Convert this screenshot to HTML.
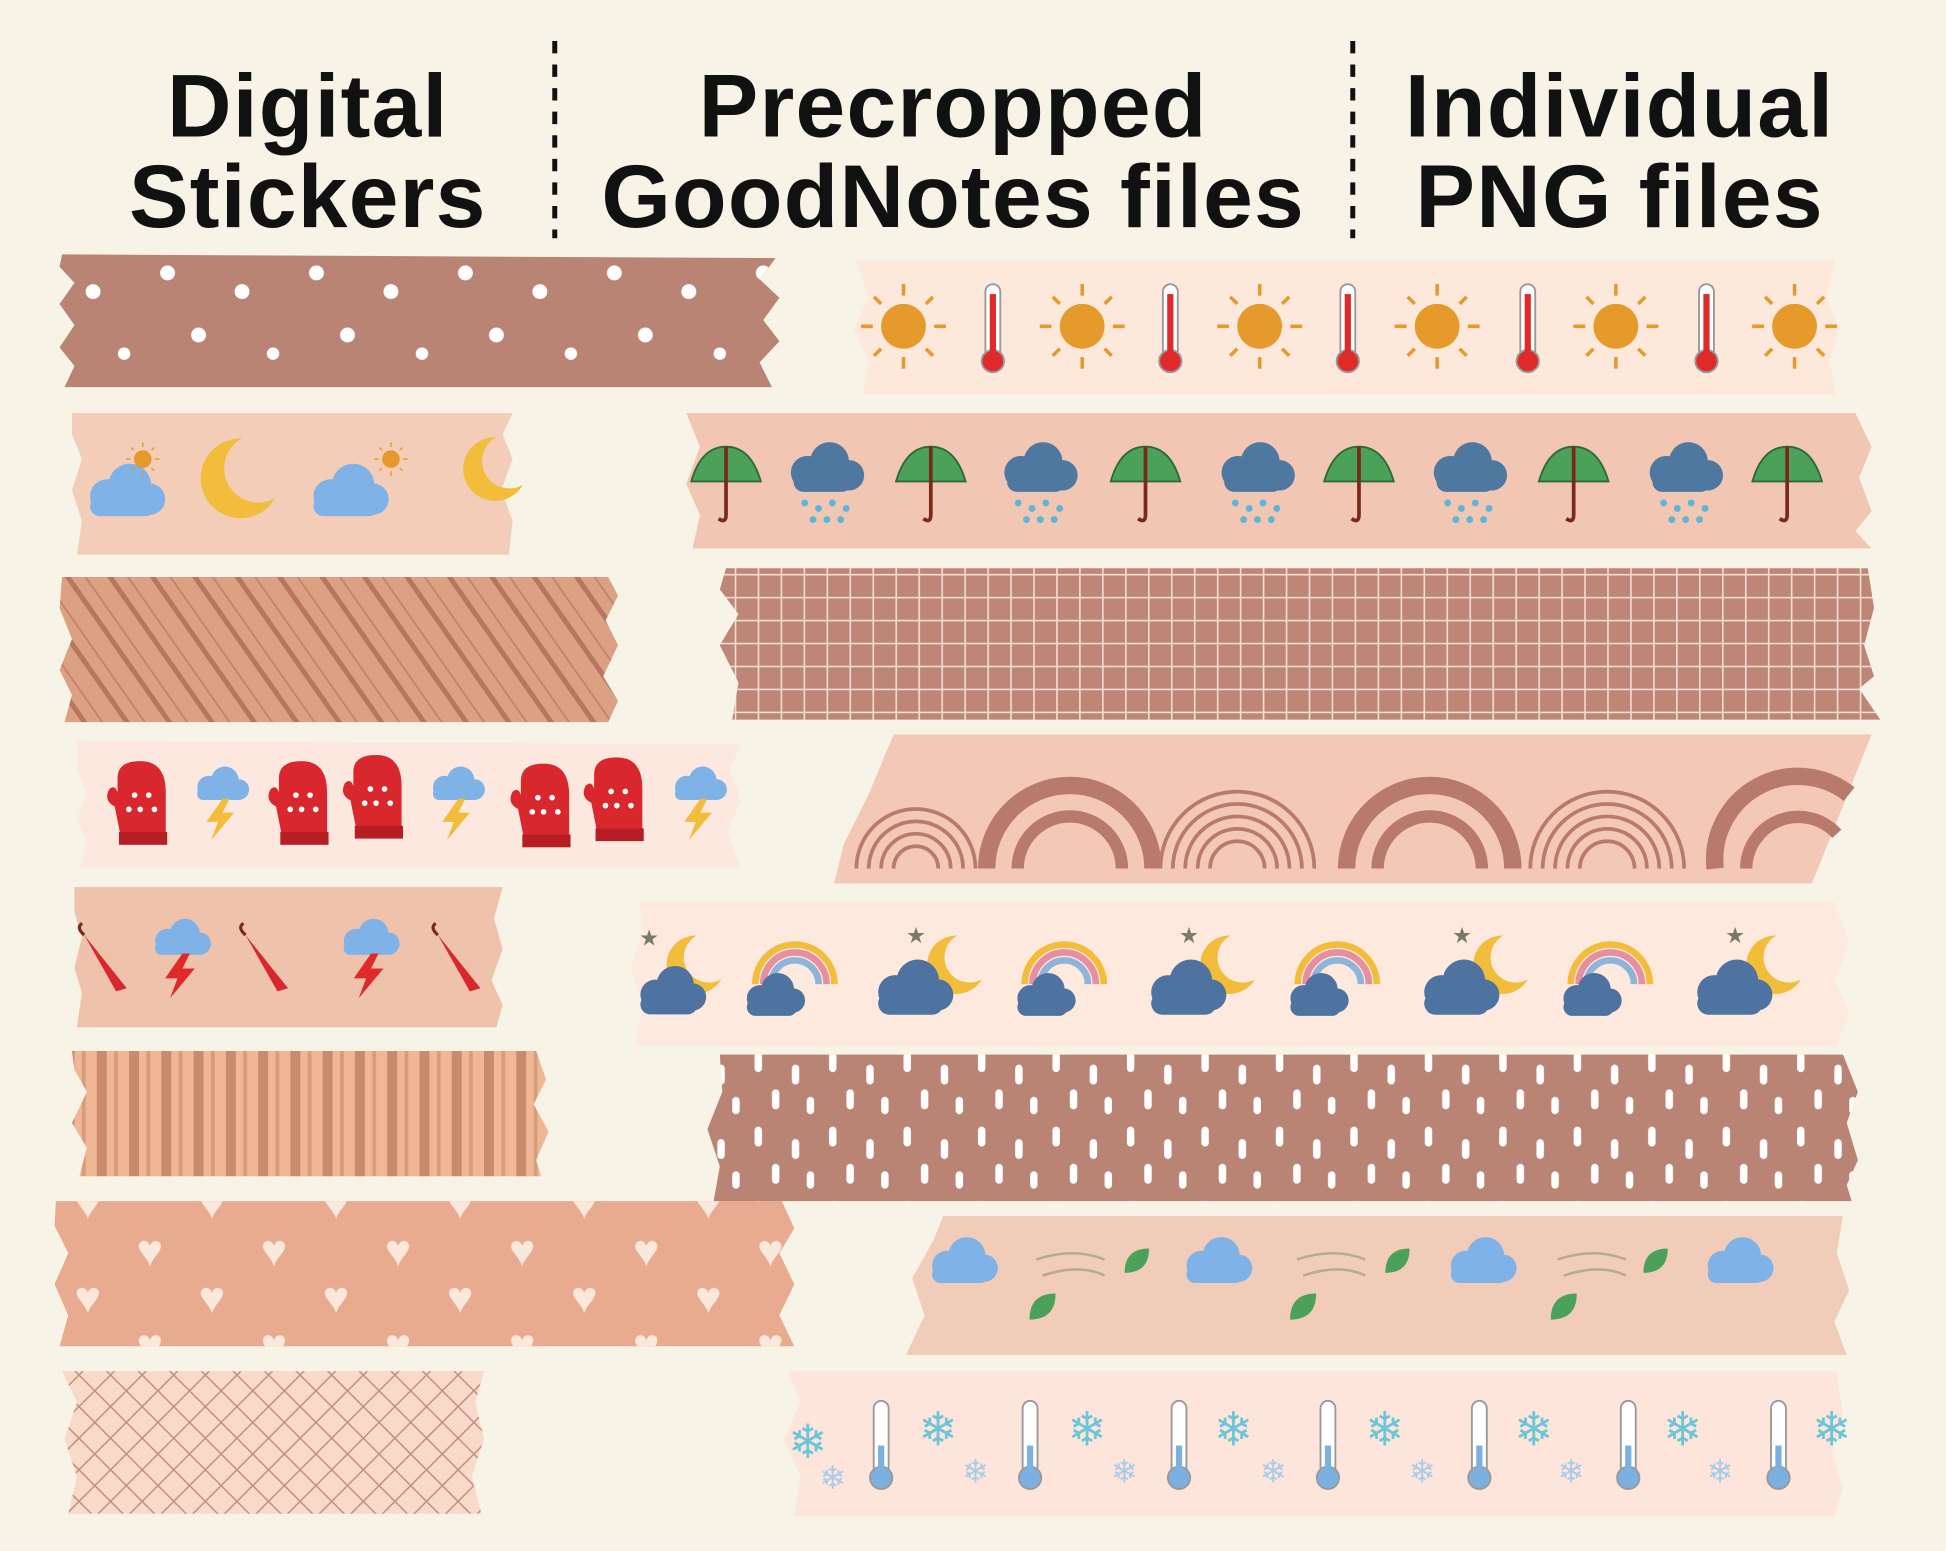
<!DOCTYPE html>
<html><head><meta charset="utf-8"><style>
html,body{margin:0;padding:0;background:#f7f3e7;}
svg{display:block}
text{font-family:"Liberation Sans","DejaVu Sans",sans-serif;}
</style></head><body>
<svg width="1946" height="1551" viewBox="0 0 1568 1250" preserveAspectRatio="none" xmlns="http://www.w3.org/2000/svg">
<defs>
<pattern id="dots" width="120" height="100" patternUnits="userSpaceOnUse">
<circle cx="15" cy="20" r="6" fill="#fff"/><circle cx="75" cy="35" r="6" fill="#fff"/><circle cx="40" cy="70" r="6" fill="#fff"/><circle cx="100" cy="85" r="5" fill="#fff"/>
</pattern>
<pattern id="diag" width="28" height="28" patternUnits="userSpaceOnUse" patternTransform="rotate(-35)">
<rect width="28" height="28" fill="#dca183"/><rect width="4" height="28" fill="#b9755f"/><rect x="13" width="1.5" height="28" fill="#c2836d"/>
</pattern>
<pattern id="vstr" width="26" height="10" patternUnits="userSpaceOnUse">
<rect width="26" height="10" fill="#efb793"/><rect width="8" height="10" fill="#c98a6d"/><rect x="14" width="3" height="10" fill="#d59c7d"/>
</pattern>
<pattern id="hatch" width="18" height="18" patternUnits="userSpaceOnUse" patternTransform="rotate(45)">
<rect width="18" height="18" fill="#f8d9ca"/><rect width="1.2" height="18" fill="#c48f80"/><rect width="18" height="1.2" fill="#c48f80"/>
</pattern>
<pattern id="grid" width="18.5" height="18.5" patternUnits="userSpaceOnUse">
<rect width="18.5" height="18.5" fill="#bd8676"/><rect width="1.3" height="18.5" fill="#f3ddd3"/><rect width="18.5" height="1.3" fill="#f3ddd3"/>
</pattern>
<pattern id="dash" width="60" height="60" patternUnits="userSpaceOnUse">
<rect width="60" height="60" fill="#b98474"/>
<rect x="8" y="8" width="6" height="16" rx="3" fill="#fff"/><rect x="38" y="18" width="6" height="16" rx="3" fill="#fff"/><rect x="22" y="38" width="6" height="16" rx="3" fill="#fff"/><rect x="50" y="44" width="6" height="14" rx="3" fill="#fff"/>
</pattern>
<pattern id="hearts" width="100" height="76" patternUnits="userSpaceOnUse">
<text x="10" y="32" font-size="36" fill="#fbe8dc">♥</text><text x="60" y="70" font-size="36" fill="#fbe8dc">♥</text>
</pattern>
<symbol id="sun" viewBox="-40 -40 80 80"><g stroke="#e59a2b" stroke-width="3"><line x1="0" y1="-36" x2="0" y2="-26"/><line x1="0" y1="36" x2="0" y2="26"/><line x1="-36" y1="0" x2="-26" y2="0"/><line x1="36" y1="0" x2="26" y2="0"/><line x1="-25" y1="-25" x2="-19" y2="-19"/><line x1="25" y1="25" x2="19" y2="19"/><line x1="-25" y1="25" x2="-19" y2="19"/><line x1="25" y1="-25" x2="19" y2="-19"/></g><circle r="19" fill="#e59a2b"/></symbol>
<symbol id="thermR" viewBox="-15 -40 30 80"><rect x="-6" y="-36" width="12" height="60" rx="6" fill="#fff" stroke="#999" stroke-width="1.5"/><circle cy="26" r="9" fill="#e02a2a" stroke="#999" stroke-width="1.5"/><rect x="-2.5" y="-28" width="5" height="52" fill="#e02a2a"/></symbol>
<symbol id="thermB" viewBox="-15 -40 30 80"><rect x="-6" y="-36" width="12" height="60" rx="6" fill="#fff" stroke="#999" stroke-width="1.5"/><circle cy="26" r="9" fill="#7bb0e0" stroke="#999" stroke-width="1.5"/><rect x="-2.5" y="0" width="5" height="24" fill="#7bb0e0"/></symbol>
<symbol id="umb" viewBox="-35 -35 70 70"><path d="M-28,-2 Q-20,-30 0,-30 Q20,-30 28,-2 Z" fill="#4ba15a" stroke="#2d6a38" stroke-width="1.5"/><path d="M0,-30 L0,25 Q0,32 -6,28" fill="none" stroke="#7a2a1a" stroke-width="3"/></symbol>
<symbol id="rcloud" viewBox="-35 -35 70 70"><g fill="#4f78a0"><circle cx="-12" cy="-6" r="12"/><circle cx="4" cy="-14" r="14"/><circle cx="18" cy="-4" r="11"/><rect x="-22" y="-6" width="42" height="14" rx="7"/></g><g fill="#5fb5d9"><circle cx="-14" cy="16" r="2.5"/><circle cx="-4" cy="20" r="2.5"/><circle cx="6" cy="16" r="2.5"/><circle cx="16" cy="20" r="2.5"/><circle cx="-8" cy="28" r="2.5"/><circle cx="2" cy="28" r="2.5"/><circle cx="12" cy="28" r="2.5"/></g></symbol>
<symbol id="bcloud" viewBox="-35 -35 70 70"><g fill="#7fb2e6"><circle cx="-12" cy="0" r="12"/><circle cx="4" cy="-8" r="15"/><circle cx="18" cy="2" r="11"/><rect x="-24" y="0" width="46" height="14" rx="7"/></g></symbol>
<symbol id="dcloud" viewBox="-35 -35 70 70"><g fill="#4e73a0"><circle cx="-12" cy="4" r="12"/><circle cx="4" cy="-4" r="15"/><circle cx="18" cy="6" r="11"/><rect x="-24" y="4" width="46" height="16" rx="8"/></g></symbol>
<symbol id="moon" viewBox="-35 -35 70 70"><path d="M5,-30 A30,30 0 1 0 30,15 A24,24 0 1 1 5,-30 Z" fill="#f1bd3a"/></symbol>
<symbol id="rainbow" viewBox="-40 -40 80 80"><path d="M-30,10 A30,30 0 0 1 30,10" fill="none" stroke="#f1bd3a" stroke-width="5"/><path d="M-24,10 A24,24 0 0 1 24,10" fill="none" stroke="#e68fa0" stroke-width="5"/><path d="M-18,10 A18,18 0 0 1 18,10" fill="none" stroke="#8fb4d9" stroke-width="5"/></symbol>
<symbol id="mitt" viewBox="-30 -35 60 70"><path d="M-16,-20 Q-16,-32 0,-32 Q18,-32 18,-10 L18,20 L-14,20 L-18,0 Q-26,-4 -22,-12 Q-18,-16 -16,-10 Z" fill="#d8282e"/><rect x="-15" y="18" width="34" height="9" fill="#b71e24"/><g fill="#fff"><circle cx="-4" cy="-8" r="2"/><circle cx="6" cy="-8" r="2"/><circle cx="0" cy="2" r="2"/><circle cx="10" cy="2" r="2"/><circle cx="-8" cy="2" r="2"/></g></symbol>
<symbol id="bolt" viewBox="-35 -35 70 70"><g fill="#7fb2e6"><circle cx="-10" cy="-14" r="10"/><circle cx="4" cy="-20" r="12"/><circle cx="16" cy="-12" r="9"/><rect x="-20" y="-14" width="40" height="11" rx="5"/></g><path d="M2,-4 L-12,16 L-2,16 L-8,32 L12,8 L2,8 L8,-4 Z" fill="#f1bd3a"/></symbol>
<symbol id="rbolt" viewBox="-35 -35 70 70"><g fill="#7fb2e6"><circle cx="-10" cy="-14" r="10"/><circle cx="4" cy="-20" r="12"/><circle cx="16" cy="-12" r="9"/><rect x="-20" y="-14" width="40" height="11" rx="5"/></g><path d="M2,-4 L-12,16 L-2,16 L-8,32 L12,8 L2,8 L8,-4 Z" fill="#e02a2a"/></symbol>
<symbol id="rumb" viewBox="-35 -35 70 70"><path d="M-20,-25 L20,25 L10,28 Z" fill="#d8282e"/><path d="M-20,-25 Q-28,-32 -22,-36" fill="none" stroke="#7a2a1a" stroke-width="3"/></symbol>
<symbol id="leaf" viewBox="-20 -20 40 40"><path d="M-14,14 Q-14,-14 14,-14 Q14,14 -14,14 Z" fill="#4ba15a"/></symbol>
</defs>

<rect width="1568" height="1250" fill="#f7f3e7"/>

<g font-weight="bold" font-size="72" fill="#111" text-anchor="middle" letter-spacing="1">
<text x="248" y="110">Digital</text><text x="248" y="183">Stickers</text>
<text x="768" y="110">Precropped</text><text x="768" y="183">GoodNotes files</text>
<text x="1305" y="110">Individual</text><text x="1305" y="183">PNG files</text>
</g>
<g stroke="#111" stroke-width="4" stroke-dasharray="10,9"><line x1="447" y1="33" x2="447" y2="192"/><line x1="1090" y1="33" x2="1090" y2="192"/></g>

<polygon points="50,205 625,208 612,225 628,240 615,258 628,275 612,292 622,312 52,312 60,295 48,280 60,262 48,245 60,228 48,215" fill="#b98474"/>
<polygon points="50,205 625,208 612,225 628,240 615,258 628,275 612,292 622,312 52,312 60,295 48,280 60,262 48,245 60,228 48,215" fill="url(#dots)"/>

<polygon points="58,333 413,333 405,350 413,370 404,395 413,420 410,447 62,447 66,420 58,395 66,370 58,350" fill="#f3cdb8"/>
<use href="#bcloud" x="60" y="360" width="80" height="80"/><use href="#sun" x="100" y="355" width="30" height="30"/>
<use href="#moon" x="152" y="348" width="75" height="75"/>
<use href="#bcloud" x="240" y="360" width="80" height="80"/><use href="#sun" x="300" y="355" width="30" height="30"/>
<use href="#moon" x="358" y="348" width="75" height="60"/>

<polygon points="50,465 490,465 498,480 488,500 498,520 486,545 498,565 490,582 52,582 58,560 48,540 58,515 48,490" fill="url(#diag)"/>

<polygon points="62,597 597,600 588,620 597,645 586,670 597,700 64,700 70,680 62,660 70,640 62,620" fill="#fce8de"/>
<use href="#mitt" x="78" y="610" width="70" height="80"/><use href="#bolt" x="145" y="610" width="65" height="75"/>
<use href="#mitt" x="208" y="610" width="70" height="80"/><use href="#mitt" x="268" y="605" width="70" height="80"/>
<use href="#bolt" x="335" y="610" width="65" height="75"/><use href="#mitt" x="403" y="612" width="70" height="80"/>
<use href="#mitt" x="462" y="607" width="70" height="80"/><use href="#bolt" x="530" y="610" width="65" height="75"/>

<polygon points="60,715 405,715 398,740 405,765 396,790 405,810 400,828 62,828 66,800 60,780 66,755 60,735" fill="#efc2ab"/>
<use href="#rumb" x="55" y="740" width="60" height="70"/><use href="#rbolt" x="110" y="735" width="70" height="75"/>
<use href="#rumb" x="185" y="735" width="60" height="80"/><use href="#rbolt" x="262" y="735" width="70" height="75"/>
<use href="#rumb" x="340" y="735" width="60" height="80"/>

<polygon points="58,847 432,847 440,870 430,890 442,912 432,935 436,948 64,948 70,925 58,905 70,880 60,862" fill="url(#vstr)"/>

<polygon points="45,968 630,968 640,990 628,1010 640,1035 628,1060 640,1085 48,1085 55,1060 44,1035 55,1010 44,988" fill="#e8ab8f"/>
<polygon points="45,968 630,968 640,990 628,1010 640,1035 628,1060 640,1085 48,1085 55,1060 44,1035 55,1010 44,988" fill="url(#hearts)"/>

<polygon points="50,1105 390,1105 383,1130 390,1160 380,1190 388,1220 55,1220 62,1190 52,1160 62,1130" fill="url(#hatch)"/>

<polygon points="690,210 1478,210 1472,240 1482,265 1474,290 1480,318 695,318 700,290 688,265 700,240" fill="#fde8dc"/>
<g>
<use href="#sun" x="690" y="225" width="76" height="76"/><use href="#thermR" x="785" y="225" width="30" height="80"/>
<use href="#sun" x="834" y="225" width="76" height="76"/><use href="#thermR" x="928" y="225" width="30" height="80"/>
<use href="#sun" x="977" y="225" width="76" height="76"/><use href="#thermR" x="1071" y="225" width="30" height="80"/>
<use href="#sun" x="1120" y="225" width="76" height="76"/><use href="#thermR" x="1216" y="225" width="30" height="80"/>
<use href="#sun" x="1264" y="225" width="76" height="76"/><use href="#thermR" x="1360" y="225" width="30" height="80"/>
<use href="#sun" x="1408" y="225" width="76" height="76"/>
</g>

<polygon points="553,333 1495,333 1508,360 1498,385 1508,412 1495,428 1508,442 558,442 564,415 553,390 564,360" fill="#f1c6b2"/>
<g>
<use href="#umb" x="550" y="350" width="70" height="80"/><use href="#rcloud" x="625" y="345" width="78" height="85"/>
<use href="#umb" x="715" y="350" width="70" height="80"/><use href="#rcloud" x="797" y="345" width="78" height="85"/>
<use href="#umb" x="888" y="350" width="70" height="80"/><use href="#rcloud" x="972" y="345" width="78" height="85"/>
<use href="#umb" x="1060" y="350" width="70" height="80"/><use href="#rcloud" x="1143" y="345" width="78" height="85"/>
<use href="#umb" x="1233" y="350" width="70" height="80"/><use href="#rcloud" x="1317" y="345" width="78" height="85"/>
<use href="#umb" x="1405" y="350" width="70" height="80"/>
</g>

<polygon points="585,458 1505,458 1510,490 1502,520 1510,545 1498,555 1515,580 590,580 595,550 580,520 595,495 580,475" fill="url(#grid)"/>

<polygon points="720,592 1508,592 1460,712 672,712 680,680 700,640" fill="#f3c8b6"/>
<g fill="none" stroke="#b87a6a">
<path d="M690,700 A48,48 0 0 1 786,700" stroke-width="3"/><path d="M700,700 A38,38 0 0 1 776,700" stroke-width="3"/><path d="M710,700 A28,28 0 0 1 766,700" stroke-width="3"/><path d="M720,700 A18,18 0 0 1 756,700" stroke-width="3"/>
<path d="M795,700 A67,67 0 0 1 929,700" stroke-width="14"/><path d="M820,700 A42,42 0 0 1 904,700" stroke-width="10"/>
<path d="M935,700 A62,62 0 0 1 1059,700" stroke-width="3"/><path d="M945,700 A52,52 0 0 1 1049,700" stroke-width="3"/><path d="M955,700 A42,42 0 0 1 1039,700" stroke-width="3"/><path d="M965,700 A32,32 0 0 1 1029,700" stroke-width="3"/><path d="M975,700 A22,22 0 0 1 1019,700" stroke-width="3"/>
<path d="M1085,700 A67,67 0 0 1 1219,700" stroke-width="14"/><path d="M1110,700 A42,42 0 0 1 1194,700" stroke-width="10"/>
<path d="M1233,700 A62,62 0 0 1 1357,700" stroke-width="3"/><path d="M1243,700 A52,52 0 0 1 1347,700" stroke-width="3"/><path d="M1253,700 A42,42 0 0 1 1337,700" stroke-width="3"/><path d="M1263,700 A32,32 0 0 1 1327,700" stroke-width="3"/><path d="M1273,700 A22,22 0 0 1 1317,700" stroke-width="3"/>
<path d="M1382,700 A67,67 0 0 1 1490,640" stroke-width="14"/><path d="M1407,700 A42,42 0 0 1 1480,672" stroke-width="10"/>
</g>

<polygon points="515,727 1478,727 1490,760 1478,790 1490,815 1480,843 512,843 518,810 508,780 518,750" fill="#fde9de"/>
<g>
<use href="#moon" x="530" y="745" width="55" height="65"/><use href="#dcloud" x="505" y="760" width="70" height="75"/><text x="515" y="762" font-size="18" fill="#7a7a6a">★</text>
<use href="#rainbow" x="598" y="740" width="85" height="85"/><use href="#dcloud" x="592" y="770" width="62" height="62"/>
<use href="#moon" x="740" y="745" width="55" height="65"/><use href="#dcloud" x="695" y="755" width="80" height="80"/><text x="730" y="760" font-size="18" fill="#7a7a6a">★</text>
<use href="#rainbow" x="815" y="740" width="85" height="85"/><use href="#dcloud" x="810" y="770" width="62" height="62"/>
<use href="#moon" x="960" y="745" width="55" height="65"/><use href="#dcloud" x="915" y="755" width="80" height="80"/><text x="950" y="760" font-size="18" fill="#7a7a6a">★</text>
<use href="#rainbow" x="1035" y="740" width="85" height="85"/><use href="#dcloud" x="1030" y="770" width="62" height="62"/>
<use href="#moon" x="1180" y="745" width="55" height="65"/><use href="#dcloud" x="1135" y="755" width="80" height="80"/><text x="1170" y="760" font-size="18" fill="#7a7a6a">★</text>
<use href="#rainbow" x="1255" y="740" width="85" height="85"/><use href="#dcloud" x="1250" y="770" width="62" height="62"/>
<use href="#moon" x="1400" y="745" width="55" height="65"/><use href="#dcloud" x="1355" y="755" width="80" height="80"/><text x="1390" y="760" font-size="18" fill="#7a7a6a">★</text>
</g>

<polygon points="580,850 1485,850 1497,880 1488,905 1497,935 1488,955 1492,968 575,968 580,940 570,910 582,880" fill="url(#dash)"/>

<polygon points="760,980 1485,980 1480,1010 1490,1040 1478,1065 1488,1092 730,1092 745,1060 735,1030 752,1000" fill="#f1cdb9"/>
<g>
<use href="#bcloud" x="740" y="985" width="70" height="70"/><use href="#leaf" x="825" y="1038" width="30" height="30"/><use href="#leaf" x="902" y="1000" width="28" height="32"/>
<use href="#bcloud" x="945" y="985" width="70" height="70"/><use href="#leaf" x="1035" y="1038" width="30" height="30"/><use href="#leaf" x="1112" y="1000" width="28" height="32"/>
<use href="#bcloud" x="1158" y="985" width="70" height="70"/><use href="#leaf" x="1245" y="1038" width="30" height="30"/><use href="#leaf" x="1320" y="1000" width="28" height="32"/>
<use href="#bcloud" x="1365" y="985" width="70" height="70"/>
<g fill="none" stroke="#b8a89a" stroke-width="2"><path d="M835,1015 q30,-10 55,0 M840,1028 q30,-10 50,0"/><path d="M1045,1015 q30,-10 55,0 M1050,1028 q30,-10 50,0"/><path d="M1255,1015 q30,-10 55,0 M1260,1028 q30,-10 50,0"/></g>
</g>

<polygon points="635,1105 1480,1105 1485,1140 1476,1170 1485,1200 1478,1222 640,1222 645,1190 632,1160 645,1130" fill="#fde5dc"/>
<g font-size="38" fill="#6cc6d8">
<text x="635" y="1175">❄</text><text x="740" y="1165">❄</text><text x="860" y="1165">❄</text><text x="978" y="1165">❄</text><text x="1100" y="1165">❄</text><text x="1220" y="1165">❄</text><text x="1340" y="1165">❄</text><text x="1460" y="1165">❄</text>
</g>
<g font-size="26" fill="#a9cde8">
<text x="660" y="1200">❄</text><text x="775" y="1195">❄</text><text x="895" y="1195">❄</text><text x="1015" y="1195">❄</text><text x="1135" y="1195">❄</text><text x="1255" y="1195">❄</text><text x="1375" y="1195">❄</text>
</g>
<g>
<use href="#thermB" x="695" y="1125" width="30" height="80"/><use href="#thermB" x="815" y="1125" width="30" height="80"/><use href="#thermB" x="935" y="1125" width="30" height="80"/><use href="#thermB" x="1055" y="1125" width="30" height="80"/><use href="#thermB" x="1177" y="1125" width="30" height="80"/><use href="#thermB" x="1297" y="1125" width="30" height="80"/><use href="#thermB" x="1418" y="1125" width="30" height="80"/>
</g>
</svg>
</body></html>
